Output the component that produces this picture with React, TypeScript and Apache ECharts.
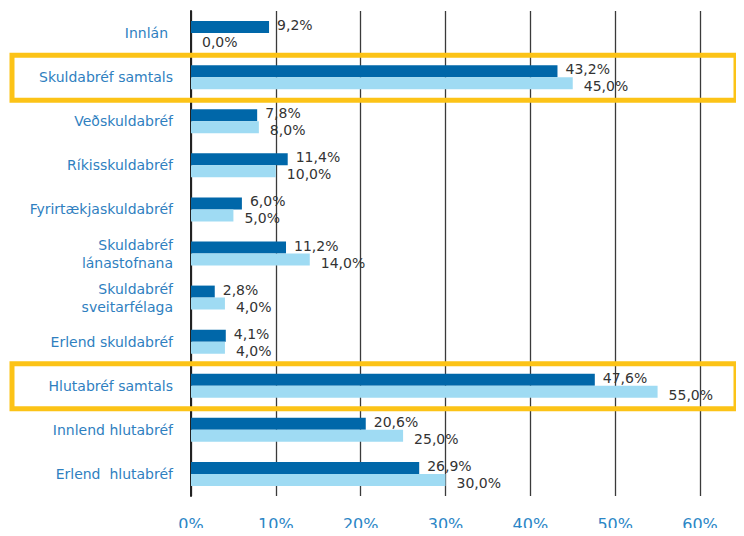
import React, { useEffect, useRef } from "react";
import * as echarts from "echarts";

const categories = [
  "Innlán",
  "Skuldabréf samtals",
  "Veðskuldabréf",
  "Ríkisskuldabréf",
  "Fyrirtækjaskuldabréf",
  "Skuldabréf\nlánastofnana",
  "Skuldabréf\nsveitarfélaga",
  "Erlend skuldabréf",
  "Hlutabréf samtals",
  "Innlend hlutabréf",
  "Erlend  hlutabréf",
];
const seriesA = [9.2, 43.2, 7.8, 11.4, 6.0, 11.2, 2.8, 4.1, 47.6, 20.6, 26.9];
const seriesB = [0.0, 45.0, 8.0, 10.0, 5.0, 14.0, 4.0, 4.0, 55.0, 25.0, 30.0];
const highlighted = ["Skuldabréf samtals", "Hlutabréf samtals"];
const xTicks = { min: 0, max: 60, interval: 10 };

const fmt = (v: number) => v.toFixed(1).replace(".", ",") + "%";

export default function App() {
  const ref = useRef<HTMLDivElement>(null);
  useEffect(() => {
    if (!ref.current) return;
    const chart = echarts.init(ref.current, null, { renderer: "svg" });
    const font = "'DejaVu Sans', sans-serif";
    const catData = categories.map((c, i) =>
      i === 0
        ? { value: c, textStyle: { padding: [0, 5, 16, 0] } }
        : { value: c, textStyle: { padding: [4, 0, 0, 0] } }
    );
    chart.setOption({
      animation: false,
      grid: { left: 191, right: 44, top: 11, bottom: 40, containLabel: false },
      xAxis: {
        type: "value",
        min: xTicks.min,
        max: xTicks.max,
        interval: xTicks.interval,
        axisLine: { show: false },
        axisTick: { show: false },
        splitLine: { show: true, lineStyle: { color: "#3a3a3a", width: 1.3 } },
        axisLabel: {
          formatter: "{value}%",
          color: "#2b86c6",
          fontSize: 16,
          fontFamily: font,
          margin: 20,
        },
      },
      yAxis: {
        type: "category",
        inverse: true,
        data: catData,
        axisLine: { show: true, lineStyle: { color: "#222", width: 2 } },
        axisTick: { show: false },
        axisLabel: {
          color: "#2f7fbf",
          fontSize: 14,
          fontFamily: font,
          margin: 18,
          lineHeight: 18,
          align: "right",
        },
      },
      series: [
        {
          type: "bar",
          data: seriesA,
          barWidth: 12,
          barGap: "0%",
          itemStyle: { color: "#0067a9" },
          label: {
            show: true,
            position: "right",
            distance: 8,
            offset: [0, -2],
            formatter: (p: any) => fmt(p.value),
            color: "#333",
            fontSize: 14,
            fontFamily: font,
          },
        },
        {
          type: "bar",
          data: seriesB,
          barWidth: 12,
          barGap: "0%",
          itemStyle: { color: "#9fdbf3" },
          label: {
            show: true,
            position: "right",
            distance: 11,
            offset: [0, 3],
            formatter: (p: any) => fmt(p.value),
            color: "#333",
            fontSize: 14,
            fontFamily: font,
          },
        },
      ],
    });
    const boxes = highlighted.map((c) => {
      const y = chart.convertToPixel({ yAxisIndex: 0 }, c) as number;
      return {
        type: "rect",
        shape: { x: 12, y: y - 22, width: 724, height: 45 },
        style: { fill: "none", stroke: "#fcc317", lineWidth: 5 },
        z: 10,
      };
    });
    chart.setOption({ graphic: boxes });
    return () => chart.dispose();
  }, []);
  return <div ref={ref} style={{ width: 744, height: 536, margin: -8 }} />;
}
